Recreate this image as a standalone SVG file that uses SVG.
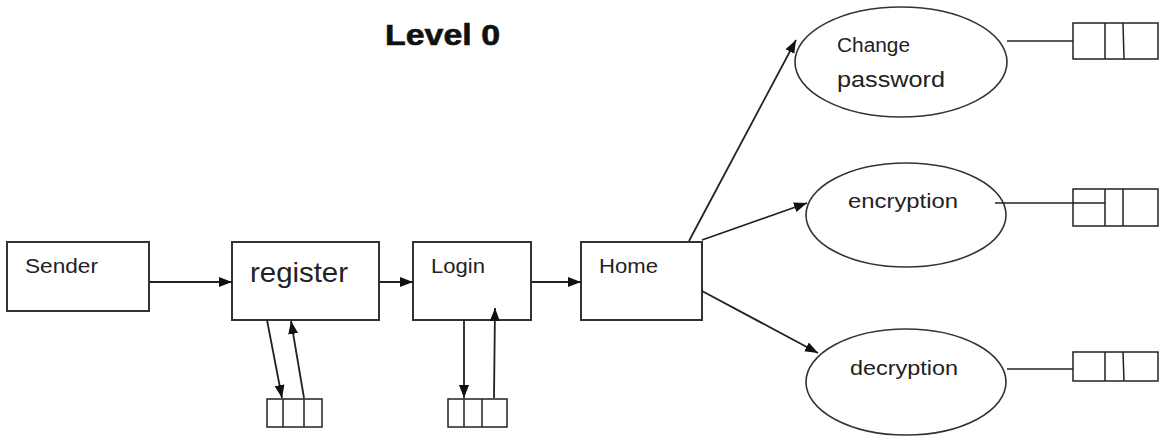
<svg xmlns="http://www.w3.org/2000/svg" width="1162" height="436" viewBox="0 0 1162 436">
  <style>
    .box { fill: #fff; stroke: #333; stroke-width: 2; }
    .oval { fill: #fff; stroke: #333; stroke-width: 1.6; }
    .store { fill: none; stroke: #222; stroke-width: 1.5; }
    .div { stroke: #222; stroke-width: 1.5; fill: none; }
    .flow { stroke: #222; stroke-width: 1.8; fill: none; marker-end: url(#arrow); }
    .link { stroke: #222; stroke-width: 1.6; fill: none; }
    .lbl { font-family: "Liberation Sans", Arial, sans-serif; fill: #222; }
    .title { font-family: "Liberation Sans", Arial, sans-serif; font-weight: bold; fill: #111; stroke: #111; stroke-width: 0.6; }
  </style>
  <defs>
    <marker id="arrow" markerUnits="userSpaceOnUse" markerWidth="14" markerHeight="12" refX="13" refY="5" orient="auto">
      <path d="M0,0 L13,5 L0,10 z" fill="#111"/>
    </marker>
  </defs>

  <rect width="1162" height="436" fill="#fff"/>

  <text class="title" x="385" y="45" font-size="29" textLength="115" lengthAdjust="spacingAndGlyphs">Level 0</text>

  <g id="sender">
    <rect class="box" x="7" y="242" width="142" height="69"/>
    <text class="lbl" x="25" y="273" font-size="20" textLength="73" lengthAdjust="spacingAndGlyphs">Sender</text>
  </g>

  <g id="register">
    <rect class="box" x="232" y="242" width="147" height="78"/>
    <text class="lbl" x="250" y="282" font-size="28" textLength="98" lengthAdjust="spacingAndGlyphs">register</text>
  </g>

  <g id="login">
    <rect class="box" x="413" y="242" width="118" height="78"/>
    <text class="lbl" x="431" y="273" font-size="20" textLength="54" lengthAdjust="spacingAndGlyphs">Login</text>
  </g>

  <g id="home">
    <rect class="box" x="581" y="242" width="121" height="78"/>
    <text class="lbl" x="599" y="273" font-size="20" textLength="59" lengthAdjust="spacingAndGlyphs">Home</text>
  </g>

  <g id="register-store">
    <rect class="store" x="267" y="399" width="55" height="28"/>
    <line class="div" x1="283" y1="399" x2="283" y2="427"/>
    <line class="div" x1="304" y1="399" x2="304" y2="427"/>
  </g>

  <g id="login-store">
    <rect class="store" x="448" y="399" width="59" height="28"/>
    <line class="div" x1="464" y1="399" x2="464" y2="427"/>
    <line class="div" x1="482" y1="399" x2="482" y2="427"/>
  </g>

  <g id="change-password">
    <ellipse class="oval" cx="901" cy="62" rx="106" ry="55"/>
    <text class="lbl" x="837" y="52" font-size="20" textLength="73" lengthAdjust="spacingAndGlyphs">Change</text>
    <text class="lbl" x="837" y="87" font-size="22" textLength="108" lengthAdjust="spacingAndGlyphs">password</text>
  </g>

  <g id="change-password-store">
    <rect class="store" x="1073" y="23" width="85" height="36"/>
    <line class="div" x1="1105" y1="23" x2="1105" y2="59"/>
    <line class="div" x1="1123" y1="23" x2="1124" y2="59"/>
  </g>

  <g id="encryption">
    <ellipse class="oval" cx="906" cy="215" rx="100" ry="52"/>
    <text class="lbl" x="848" y="208" font-size="20" textLength="110" lengthAdjust="spacingAndGlyphs">encryption</text>
  </g>

  <g id="encryption-store">
    <rect class="store" x="1073" y="189" width="85" height="37"/>
    <line class="div" x1="1105" y1="189" x2="1105" y2="226"/>
    <line class="div" x1="1123" y1="189" x2="1123" y2="226"/>
  </g>

  <g id="decryption">
    <ellipse class="oval" cx="906" cy="382" rx="100" ry="53"/>
    <text class="lbl" x="850" y="375" font-size="20" textLength="108" lengthAdjust="spacingAndGlyphs">decryption</text>
  </g>

  <g id="decryption-store">
    <rect class="store" x="1073" y="352" width="85" height="29"/>
    <line class="div" x1="1105" y1="352" x2="1105" y2="381"/>
    <line class="div" x1="1123" y1="352" x2="1124" y2="381"/>
  </g>

  <!-- data flows, drawn over the nodes so heads that reach inside a box stay visible -->
  <g id="connectors">
    <line class="flow" x1="149" y1="282" x2="232" y2="282"/>
    <line class="flow" x1="379" y1="282" x2="413" y2="282"/>
    <line class="flow" x1="531" y1="282" x2="581" y2="282"/>
    <!-- register <-> store -->
    <line class="flow" x1="267" y1="320" x2="282" y2="398"/>
    <line class="flow" x1="304" y1="398" x2="291" y2="321"/>
    <!-- login <-> store -->
    <line class="flow" x1="464" y1="320" x2="464" y2="398"/>
    <line class="flow" x1="494" y1="398" x2="495" y2="308"/>
    <!-- home to processes -->
    <line class="flow" x1="689" y1="241" x2="796" y2="40"/>
    <line class="flow" x1="702" y1="240" x2="807" y2="203"/>
    <line class="flow" x1="702" y1="291" x2="818" y2="353"/>
    <!-- process to store links -->
    <line class="link" x1="1007" y1="41" x2="1073" y2="41"/>
    <line class="link" x1="995" y1="203" x2="1105" y2="203"/>
    <line class="link" x1="1007" y1="369" x2="1073" y2="369"/>
  </g>
</svg>
